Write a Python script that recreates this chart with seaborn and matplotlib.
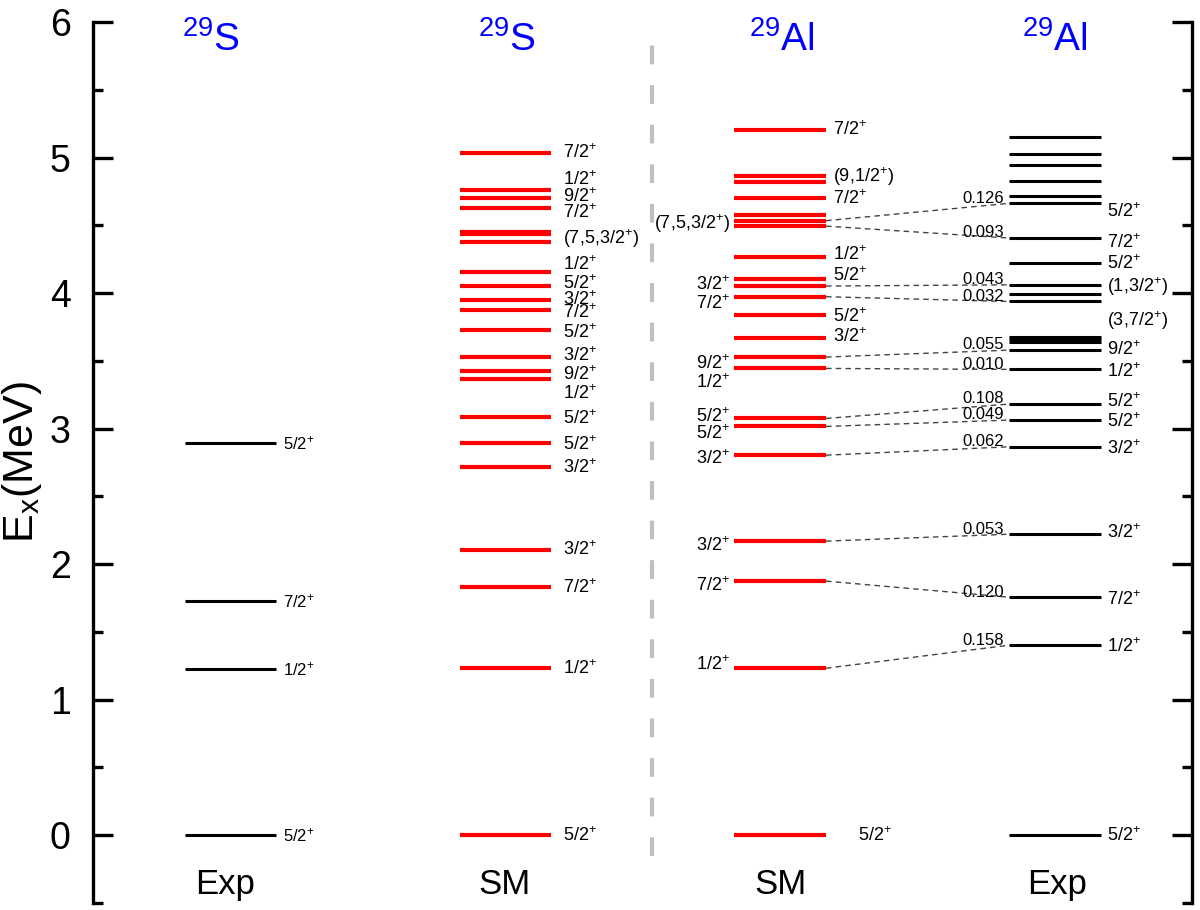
import matplotlib
matplotlib.use("Agg")
import matplotlib.pyplot as plt
from matplotlib.ticker import MultipleLocator
import seaborn as sns
import pandas as pd

# ---------------- data ----------------
s29_exp_E = [0.0, 1.225, 1.727, 2.893]
s29_exp_J = ["5/2+", "1/2+", "7/2+", "5/2+"]

s29_sm_E = [0.0, 1.232, 1.830, 2.105, 2.718, 2.891, 3.085, 3.363, 3.422, 3.528,
            3.725, 3.877, 3.948, 4.054, 4.155, 4.379, 4.437, 4.449, 4.627, 4.700,
            4.760, 5.035]
s29_sm_J = ["5/2+", "1/2+", "7/2+", "3/2+", "3/2+", "5/2+", "5/2+", "1/2+", "9/2+",
            "3/2+", "5/2+", "7/2+", "3/2+", "5/2+", "1/2+", "(7,5,3/2+)", "7/2+",
            "9/2+", "1/2+", "7/2+"]
s29_sm_label_y = [0.0, 1.232, 1.83, 2.105, 2.71, 2.88, 3.07, 3.26, 3.40, 3.54,
                  3.71, 3.855, 3.955, 4.07, 4.21, 4.40, 4.59, 4.71, 4.834, 5.035]

al29_sm_E = [0.0, 1.232, 1.875, 2.170, 2.804, 3.016, 3.075, 3.444, 3.528, 3.668,
             3.840, 3.973, 4.052, 4.103, 4.263, 4.494, 4.534, 4.576, 4.701, 4.817,
             4.861, 5.203]
al29_sm_right_J = ["3/2+", "5/2+", "5/2+", "1/2+", "7/2+", "(9,1/2+)", "7/2+"]
al29_sm_right_y = [3.675, 3.825, 4.13, 4.28, 4.70, 4.86, 5.203]
al29_sm_left_J = ["1/2+", "7/2+", "3/2+", "3/2+", "5/2+", "5/2+", "1/2+", "9/2+",
                  "7/2+", "3/2+", "(7,5,3/2+)"]
al29_sm_left_y = [1.255, 1.845, 2.14, 2.775, 2.965, 3.09, 3.34, 3.48, 3.92, 4.06, 4.513]
al29_sm_ground_J = "5/2+"

al29_exp_E = [0.0, 1.402, 1.756, 2.221, 2.866, 3.063, 3.181, 3.437, 3.579, 3.638,
              3.658, 3.677, 3.938, 3.993, 4.061, 4.219, 4.406, 4.662, 4.716, 4.829,
              4.942, 5.026, 5.149]
al29_exp_J = ["5/2+", "1/2+", "7/2+", "3/2+", "3/2+", "5/2+", "5/2+", "1/2+", "9/2+",
              "(3,7/2+)", "(1,3/2+)", "5/2+", "7/2+", "5/2+"]
al29_exp_label_y = [0.0, 1.39, 1.74, 2.23, 2.85, 3.05, 3.198, 3.42, 3.58, 3.80,
                    4.047, 4.22, 4.374, 4.60]

# spectroscopic-factor links: SM level -> Exp level
link_sm_E = [1.232, 1.875, 2.170, 2.804, 3.016, 3.075, 3.444, 3.528, 3.973, 4.052, 4.494, 4.534]
link_exp_E = [1.402, 1.756, 2.221, 2.866, 3.063, 3.181, 3.437, 3.579, 3.938, 4.061, 4.406, 4.662]
link_S = ["0.158", "0.120", "0.053", "0.062", "0.049", "0.108", "0.010", "0.055",
          "0.032", "0.043", "0.093", "0.126"]

titles = ["$^{29}$S", "$^{29}$S", "$^{29}$Al", "$^{29}$Al"]
bottom_labels = ["Exp", "SM", "SM", "Exp"]

# ---------------- style ----------------
sns.set_theme(style="ticks")
plt.rcParams["font.family"] = ["Liberation Sans", "DejaVu Sans"]
plt.rcParams["mathtext.fontset"] = "custom"
plt.rcParams["mathtext.rm"] = "Liberation Sans"
plt.rcParams["mathtext.it"] = "Liberation Sans:italic"
plt.rcParams["mathtext.default"] = "regular"
plt.rcParams["text.color"] = "black"
plt.rcParams["axes.labelcolor"] = "black"
plt.rcParams["ytick.color"] = "black"
plt.rcParams["ytick.labelcolor"] = "black"


def jp(s):
    return s.replace("+", "$^{+}$")


W, H = 1200, 910
fig = plt.figure(figsize=(12, 9.1), dpi=100)
x0, x1 = 93, 1192
ytop_px, ybot_px = 22, 903
ax = fig.add_axes([x0 / W, (H - ybot_px) / H, (x1 - x0) / W, (ybot_px - ytop_px) / H])
ax.set_xlim(x0, x1)
ax.set_ylim(-0.5, 6)

# column geometry (layout)
cols = {
    "s_exp": (185, 276),
    "s_sm": (460, 551),
    "al_sm": (734, 826),
    "al_exp": (1009, 1101),
}

df = pd.concat([
    pd.DataFrame({"E": s29_exp_E, "col": "s_exp"}),
    pd.DataFrame({"E": s29_sm_E, "col": "s_sm"}),
    pd.DataFrame({"E": al29_sm_E, "col": "al_sm"}),
    pd.DataFrame({"E": al29_exp_E, "col": "al_exp"}),
], ignore_index=True)

for c, sub in df.groupby("col"):
    xa, xb = cols[c]
    red = c.endswith("sm")
    ax.hlines(sub["E"], xa, xb, colors="#ff0000" if red else "black",
              lw=3.0 if red else 2.2, capstyle="butt", zorder=3)

# connectors
for es, ee, s in zip(link_sm_E, link_exp_E, link_S):
    ax.plot([cols["al_sm"][1], cols["al_exp"][0]], [es, ee], ls=(0, (4, 3)),
            color="#444444", lw=1.0, zorder=2)
    ax.text(1004, ee + 0.005, s, ha="right", va="baseline", fontsize=12, color="black")

# labels
fs = 13
for e, j in zip(s29_exp_E, s29_exp_J):
    ax.text(283, e, jp(j), ha="left", va="center", fontsize=12)
for y, j in zip(s29_sm_label_y, s29_sm_J):
    ax.text(563, y, jp(j), ha="left", va="center", fontsize=fs)
for y, j in zip(al29_sm_right_y, al29_sm_right_J):
    ax.text(833, y, jp(j), ha="left", va="center", fontsize=fs)
for y, j in zip(al29_sm_left_y, al29_sm_left_J):
    ax.text(730, y, jp(j), ha="right", va="center", fontsize=fs)
ax.text(858, 0.0, jp(al29_sm_ground_J), ha="left", va="center", fontsize=fs)
for y, j in zip(al29_exp_label_y, al29_exp_J):
    ax.text(1107, y, jp(j), ha="left", va="center", fontsize=fs)

# column titles and bottom labels
title_x = [211, 507, 782, 1055]
bottom_x = [225, 505, 780, 1057]
for tx, t in zip(title_x, titles):
    ax.text(tx, 5.87, t, color="#0000ff", fontsize=28, ha="center", va="center")
for bx, b in zip(bottom_x, bottom_labels):
    ax.text(bx, -0.36, b, color="black", fontsize=25, ha="center", va="center")

# separator
ax.plot([652, 652], [-0.15, 5.98], color="#c0c0c0", lw=3,
        ls=(0, (4.5, 5)), zorder=1)

# axes styling
for side in ["top", "bottom"]:
    ax.spines[side].set_visible(False)
for side in ["left", "right"]:
    ax.spines[side].set_linewidth(2.4)
    ax.spines[side].set_color("black")
ax.set_xticks([])
ax.yaxis.set_major_locator(MultipleLocator(1))
ax.yaxis.set_minor_locator(MultipleLocator(0.5))
ax.tick_params(axis="y", which="both", direction="in", left=True, right=True,
               labelleft=True, labelright=False, color="black", labelcolor="black")
ax.tick_params(axis="y", which="major", length=14.5, width=2.4, labelsize=27, pad=16)
ax.tick_params(axis="y", which="minor", length=7.5, width=2.4)
ax.set_ylabel("E$_x$(MeV)", fontsize=31, labelpad=4, color="black")
ax.set_facecolor("white")
fig.patch.set_facecolor("white")

fig.savefig("out.png", dpi=100, facecolor="white")
